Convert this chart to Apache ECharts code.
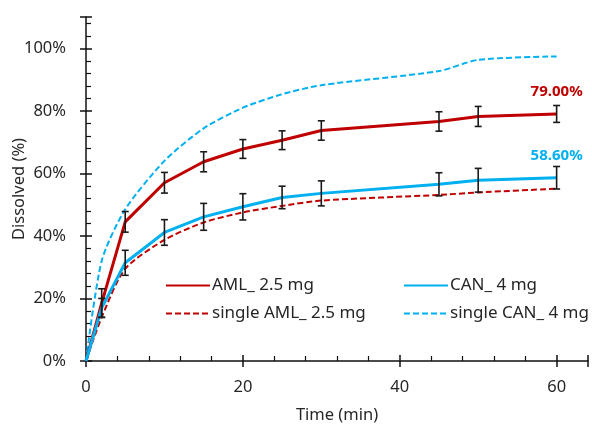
<!DOCTYPE html>
<html>
<head>
<meta charset="utf-8">
<script src="https://cdn.jsdelivr.net/npm/echarts@6/dist/echarts.min.js"></script>
<style>
  html, body { margin: 0; padding: 0; background: #fff; }
  #chart { width: 592px; height: 427px; }
</style>
</head>
<body>
<div id="chart"></div>
<script>
// time points (min)
const times = [0, 2, 5, 10, 15, 20, 25, 30, 45, 50, 60]

// dissolved (%) per formulation
const aml = [0, 18.5, 44.5, 57.0, 63.7, 67.8, 70.6, 73.7, 76.6, 78.2, 79.0]
const amlErr = [0, 4.6, 3.3, 3.3, 3.2, 3.0, 3.0, 3.1, 3.1, 3.2, 2.7]
const can = [0, 17.0, 31.4, 41.1, 46.1, 49.3, 52.3, 53.6, 56.5, 57.8, 58.6]
const canErr = [0, 3.0, 4.0, 4.1, 4.3, 4.2, 3.6, 4.0, 3.7, 3.8, 3.6]
const singleAml = [0, 14.0, 29.5, 38.7, 44.3, 47.5, 49.6, 51.3, 53.1, 53.9, 55.1]
const singleCan = [0, 32.0, 48.5, 64.0, 74.4, 81.0, 85.3, 88.2, 92.7, 96.3, 97.4]

const endLabels = ["79.00%", "58.60%"]

const RED = "#C00000"
const BLUE = "#00B0F0"
const INK = "#262626"
const FONT = "Noto Sans"

const withErr = (ys, errs) => times.map((t, i) => [t, ys[i], errs[i]])

function errorBars(params, api) {
  const e = api.value(2)
  if (!e) return null
  const x = api.value(0)
  const v = api.value(1)
  const top = api.coord([x, v + e])
  const bot = api.coord([x, v - e])
  const style = { stroke: "#1a1a1a", lineWidth: 1.6 }
  return {
    type: "group",
    children: [
      { type: "line", shape: { x1: top[0], y1: top[1], x2: bot[0], y2: bot[1] }, style },
      { type: "line", shape: { x1: top[0] - 3.5, y1: top[1], x2: top[0] + 3.5, y2: top[1] }, style },
      { type: "line", shape: { x1: bot[0] - 3.5, y1: bot[1], x2: bot[0] + 3.5, y2: bot[1] }, style }
    ]
  }
}

function lineSeries(name, ys, color, dashed, label) {
  const last = ys.length - 1
  const data = times.map((t, i) => {
    if (label && i === last) {
      return {
        value: [t, ys[i]],
        symbol: "circle",
        symbolSize: 1,
        label: {
          show: true,
          position: "top",
          distance: 14,
          color,
          fontFamily: FONT,
          fontSize: 15,
          fontWeight: "bold",
          formatter: label
        }
      }
    }
    return [t, ys[i]]
  })
  return {
    name,
    type: "line",
    data,
    symbol: "none",
    smooth: dashed ? 0.25 : false,
    z: dashed ? 2 : 3,
    lineStyle: dashed
      ? { color, width: 2, type: [6, 3] }
      : { color, width: 3 },
    itemStyle: { color }
  }
}

const chart = echarts.init(document.getElementById("chart"), null, { renderer: "canvas" })

const baseX = {
  type: "value",
  min: 0,
  max: 64,
  interval: 20,
  splitLine: { show: false }
}
const baseY = {
  type: "value",
  min: 0,
  max: 110,
  interval: 20,
  splitLine: { show: false }
}

const legendBase = {
  orient: "vertical",
  top: 272,
  itemWidth: 44,
  itemHeight: 10,
  itemGap: 11,
  itemStyle: { color: "transparent", borderWidth: 0 },
  textStyle: { color: INK, fontSize: 17, fontFamily: FONT, padding: [0, 0, 0, -3] }
}

chart.setOption({
  animation: false,
  textStyle: { fontFamily: FONT },
  grid: { left: 86, right: 4, top: 17, bottom: 66, outerBoundsMode: "none", containLabel: false },
  legend: [
    { ...legendBase, data: ["AML_ 2.5 mg", "single AML_ 2.5 mg"], left: 160 },
    { ...legendBase, data: ["CAN_ 4 mg", "single CAN_ 4 mg"], left: 398 }
  ],
  xAxis: [
    {
      ...baseX,
      name: "Time (min)",
      nameLocation: "middle",
      nameGap: 46,
      nameMoveOverlap: false,
      nameTextStyle: { color: INK, fontSize: 16.5, fontFamily: FONT },
      axisLine: { lineStyle: { color: "#111", width: 1.5 } },
      axisTick: { inside: true, length: 6, lineStyle: { color: "#111", width: 1.5 } },
      minorTick: { show: true, splitNumber: 5, length: 5, lineStyle: { color: "#111", width: 1.2 } },
      axisLabel: { color: INK, fontSize: 16.5, margin: 18, showMaxLabel: false }
    },
    {
      ...baseX,
      position: "bottom",
      axisLine: { show: false },
      axisTick: { inside: false, length: 6, lineStyle: { color: "#111", width: 1.5 } },
      axisLabel: { show: false }
    }
  ],
  yAxis: [
    {
      ...baseY,
      name: "Dissolved (%)",
      nameLocation: "middle",
      nameGap: 58,
      nameMoveOverlap: false,
      nameTextStyle: { color: INK, fontSize: 16.5, fontFamily: FONT },
      axisLine: { show: true, lineStyle: { color: "#111", width: 1.5 } },
      axisTick: { show: true, inside: true, length: 6, lineStyle: { color: "#111", width: 1.5 } },
      minorTick: { show: true, splitNumber: 5, length: 5, lineStyle: { color: "#111", width: 1.2 } },
      axisLabel: { color: INK, fontSize: 16.5, margin: 20, showMaxLabel: false, formatter: "{value}%" }
    },
    {
      ...baseY,
      position: "left",
      axisLine: { show: false },
      axisTick: { show: true, inside: false, length: 6, lineStyle: { color: "#111", width: 1.5 } },
      axisLabel: { show: false }
    }
  ],
  series: [
    lineSeries("single AML_ 2.5 mg", singleAml, RED, true),
    lineSeries("single CAN_ 4 mg", singleCan, BLUE, true),
    lineSeries("AML_ 2.5 mg", aml, RED, false, endLabels[0]),
    lineSeries("CAN_ 4 mg", can, BLUE, false, endLabels[1]),
    { type: "custom", renderItem: errorBars, data: withErr(aml, amlErr), z: 5, silent: true },
    { type: "custom", renderItem: errorBars, data: withErr(can, canErr), z: 5, silent: true }
  ]
})
</script>
</body>
</html>
